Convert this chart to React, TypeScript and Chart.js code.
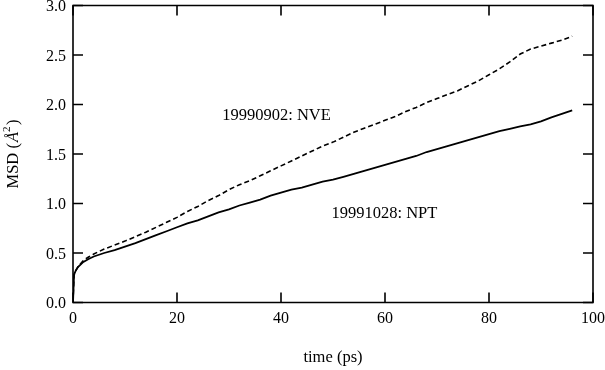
import React, { useEffect, useRef } from "react";
import { Chart, registerables } from "chart.js";

Chart.register(...registerables);

const times = [0, 0.2, 0.5, 1, 2, 3, 4, 6, 8, 10, 12, 14, 16, 18, 20, 22, 24, 26, 28, 30, 32, 34, 36, 38, 40, 42, 44, 46, 48, 50, 52, 54, 56, 58, 60, 62, 64, 66, 68, 70, 72, 74, 76, 78, 80, 82, 84, 86, 88, 90, 92, 94, 96];

const nptMsd = [0, 0.28, 0.32, 0.36, 0.41, 0.44, 0.465, 0.50, 0.53, 0.565, 0.60, 0.64, 0.68, 0.72, 0.76, 0.80, 0.83, 0.87, 0.91, 0.94, 0.98, 1.01, 1.04, 1.08, 1.11, 1.14, 1.16, 1.19, 1.22, 1.24, 1.27, 1.30, 1.33, 1.36, 1.39, 1.42, 1.45, 1.48, 1.52, 1.55, 1.58, 1.61, 1.64, 1.67, 1.70, 1.73, 1.755, 1.78, 1.80, 1.83, 1.87, 1.905, 1.94];

const nveMsd = [0, 0.28, 0.32, 0.365, 0.425, 0.46, 0.49, 0.54, 0.58, 0.62, 0.665, 0.71, 0.76, 0.81, 0.86, 0.92, 0.97, 1.03, 1.08, 1.14, 1.19, 1.23, 1.28, 1.33, 1.38, 1.43, 1.48, 1.53, 1.58, 1.62, 1.67, 1.72, 1.76, 1.80, 1.84, 1.88, 1.93, 1.97, 2.02, 2.06, 2.10, 2.14, 2.19, 2.24, 2.30, 2.36, 2.43, 2.51, 2.56, 2.59, 2.62, 2.65, 2.69];

const xTicks = [0, 20, 40, 60, 80, 100];
const yTicks = [0, 0.5, 1.0, 1.5, 2.0, 2.5, 3.0];

const nveLabel = "19990902: NVE";
const nptLabel = "19991028: NPT";
const xTitle = "time (ps)";

const FONT = "'Liberation Serif', 'DejaVu Serif', serif";

const framePlugin = {
  id: "frame",
  afterDraw(chart: any) {
    const { ctx, chartArea } = chart;
    const { left, right, top, bottom } = chartArea;
    const xs = chart.scales.x;
    const ys = chart.scales.y;
    ctx.save();
    ctx.strokeStyle = "#000";
    ctx.lineWidth = 1.6;
    ctx.beginPath();
    ctx.rect(left, top, right - left, bottom - top);
    ctx.stroke();
    const tl = 10;
    ctx.beginPath();
    xTicks.forEach((v) => {
      const px = xs.getPixelForValue(v);
      ctx.moveTo(px, bottom);
      ctx.lineTo(px, bottom - tl);
      ctx.moveTo(px, top);
      ctx.lineTo(px, top + tl);
    });
    yTicks.forEach((v) => {
      const py = ys.getPixelForValue(v);
      ctx.moveTo(left, py);
      ctx.lineTo(left + tl, py);
      ctx.moveTo(right, py);
      ctx.lineTo(right - tl, py);
    });
    ctx.stroke();

    ctx.fillStyle = "#000";
    ctx.font = `16.5px ${FONT}`;
    ctx.textBaseline = "middle";
    ctx.textAlign = "left";
    ctx.fillText(nveLabel, xs.getPixelForValue(28.7), ys.getPixelForValue(1.89));
    ctx.fillText(nptLabel, xs.getPixelForValue(49.7), ys.getPixelForValue(0.9));

    ctx.textAlign = "center";
    ctx.fillText(xTitle, (left + right) / 2, 358);

    // y title: MSD (Å²) with italic Å and superscript 2
    ctx.translate(14, (top + bottom) / 2);
    ctx.rotate(-Math.PI / 2);
    const parts = [
      { t: "MSD (", f: `16.5px ${FONT}`, dy: 0, gap: 1 },
      { t: "Å", f: `italic 16.5px ${FONT}`, dy: 0, gap: 0 },
      { t: "2", f: `11px ${FONT}`, dy: -7, gap: 1.5 },
      { t: ")", f: `16.5px ${FONT}`, dy: 0, gap: 0 },
    ];
    let total = 0;
    parts.forEach((p) => {
      ctx.font = p.f;
      total += ctx.measureText(p.t).width + p.gap;
    });
    let cx = -total / 2;
    ctx.textAlign = "left";
    parts.forEach((p) => {
      ctx.font = p.f;
      ctx.fillText(p.t, cx, p.dy);
      cx += ctx.measureText(p.t).width + p.gap;
    });
    ctx.restore();
  },
};

const zeroPad = (s: any) => {
  s.paddingTop = 0;
  s.paddingBottom = 0;
  s.paddingLeft = 0;
  s.paddingRight = 0;
};

export default function App() {
  const ref = useRef<HTMLCanvasElement | null>(null);
  useEffect(() => {
    document.body.style.margin = "0";
    const canvas = ref.current!;
    const chart = new Chart(canvas, {
      type: "line",
      data: {
        datasets: [
          {
            label: nveLabel,
            data: times.map((t, i) => ({ x: t, y: nveMsd[i] })),
            borderColor: "#000",
            borderWidth: 1.6,
            borderDash: [5, 3],
            pointRadius: 0,
            tension: 0,
            fill: false,
          },
          {
            label: nptLabel,
            data: times.map((t, i) => ({ x: t, y: nptMsd[i] })),
            borderColor: "#000",
            borderWidth: 1.8,
            pointRadius: 0,
            tension: 0,
            fill: false,
          },
        ],
      },
      options: {
        animation: false,
        responsive: false,
        devicePixelRatio: 1,
        layout: { autoPadding: false, padding: { top: 5.5, right: 12, left: 0, bottom: 0 } } as any,
        plugins: { legend: { display: false }, tooltip: { enabled: false } },
        scales: {
          x: {
            type: "linear",
            min: 0,
            max: 100,
            grid: { display: false, drawTicks: false },
            border: { display: false },
            afterBuildTicks: (s: any) => {
              s.ticks = xTicks.map((v) => ({ value: v }));
            },
            afterFit: (s: any) => {
              s.height = 67.5;
              zeroPad(s);
            },
            ticks: {
              color: "#000",
              padding: 7,
              font: { family: FONT, size: 16 },
              maxRotation: 0,
              callback: (v: any) => String(v),
            },
          },
          y: {
            type: "linear",
            min: 0,
            max: 3,
            grid: { display: false, drawTicks: false },
            border: { display: false },
            afterBuildTicks: (s: any) => {
              s.ticks = yTicks.map((v) => ({ value: v }));
            },
            afterFit: (s: any) => {
              s.width = 73;
              zeroPad(s);
            },
            ticks: {
              color: "#000",
              padding: 7,
              labelOffset: 1.5,
              font: { family: FONT, size: 16 },
              callback: (v: any) => Number(v).toFixed(1),
            },
          },
        },
      },
      plugins: [framePlugin],
    });
    return () => chart.destroy();
  }, []);
  return (
    <div style={{ width: 605, height: 370, background: "#fff" }}>
      <canvas ref={ref} width={605} height={370} style={{ display: "block" }} />
    </div>
  );
}
